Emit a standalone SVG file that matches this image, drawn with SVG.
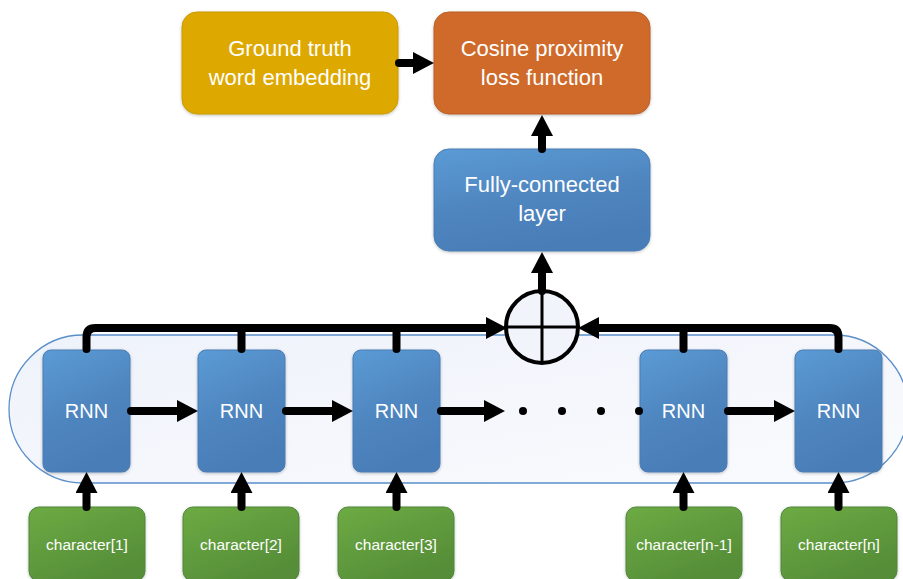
<svg xmlns="http://www.w3.org/2000/svg" width="903" height="579" viewBox="0 0 903 579">
  <defs>
    <linearGradient id="gBlue" x1="0" y1="0" x2="0.35" y2="1">
      <stop offset="0" stop-color="#5b9bd5"/>
      <stop offset="0.55" stop-color="#4f86c0"/>
      <stop offset="1" stop-color="#4a7db8"/>
    </linearGradient>
    <linearGradient id="gGreen" x1="0" y1="0" x2="0.6" y2="1">
      <stop offset="0" stop-color="#6dab44"/>
      <stop offset="1" stop-color="#558d37"/>
    </linearGradient>
    <linearGradient id="gPill" x1="0" y1="0" x2="1" y2="1">
      <stop offset="0" stop-color="#eef2fa"/>
      <stop offset="1" stop-color="#fafbfe"/>
    </linearGradient>
    <filter id="soft" x="-10%" y="-10%" width="120%" height="130%">
      <feDropShadow dx="0" dy="1" stdDeviation="1.5" flood-color="#000" flood-opacity="0.25"/>
    </filter>
    <marker id="head" viewBox="0 0 22 22" markerUnits="userSpaceOnUse" markerWidth="22" markerHeight="22" refX="0" refY="11" orient="auto">
      <path d="M0,0 L21,11 L0,22 z" fill="#000"/>
    </marker>
  </defs>
  <style>
    .lbl { font-family: "Liberation Sans", Arial, sans-serif; fill: #ffffff; text-anchor: middle; }
    .big { font-size: 22px; }
    .rnn-t { font-size: 20px; }
    .chr { font-size: 15.5px; }
    .blue { fill: url(#gBlue); stroke: #4a7cb4; stroke-width: 1; filter: url(#soft); }
    .green { fill: url(#gGreen); stroke: #50853a; stroke-width: 1; filter: url(#soft); }
    .wire { fill: none; stroke: #000; stroke-width: 8; stroke-linecap: round; stroke-linejoin: round; }
    .arrow { marker-end: url(#head); }
  </style>

  <rect width="903" height="579" fill="#ffffff"/>

  <!-- recurrent block container -->
  <g id="rnn-container">
    <rect x="9" y="335" width="899" height="148" rx="74" ry="74" fill="url(#gPill)" stroke="#5b8fc9" stroke-width="1.3"/>
  </g>

  <!-- top row -->
  <g id="ground-truth">
    <rect x="182" y="12" width="216" height="102" rx="15" fill="#dda800" stroke="#c99a00" stroke-width="1" filter="url(#soft)"/>
    <text class="lbl big" x="290" y="56">Ground truth</text>
    <text class="lbl big" x="290" y="85">word embedding</text>
  </g>
  <g id="cosine-loss">
    <rect x="434" y="12" width="216" height="102" rx="15" fill="#d06b2c" stroke="#b95e26" stroke-width="1" filter="url(#soft)"/>
    <text class="lbl big" x="542" y="56">Cosine proximity</text>
    <text class="lbl big" x="542" y="85">loss function</text>
  </g>
  <g id="fully-connected">
    <rect class="blue" x="434" y="149" width="216" height="102" rx="15"/>
    <text class="lbl big" x="542" y="192">Fully-connected</text>
    <text class="lbl big" x="542" y="221">layer</text>
  </g>

  <!-- summation node -->
  <g id="sum">
    <circle cx="542" cy="327" r="36" fill="#f1f4fa" stroke="#000" stroke-width="4"/>
    <line x1="506" y1="327" x2="578" y2="327" stroke="#000" stroke-width="3"/>
    <line x1="542" y1="291" x2="542" y2="363" stroke="#000" stroke-width="3"/>
  </g>

  <!-- RNN cells -->
  <g id="rnn-1">
    <rect class="blue" x="43" y="350" width="87" height="122" rx="8"/>
    <text class="lbl rnn-t" x="86.5" y="418">RNN</text>
  </g>
  <g id="rnn-2">
    <rect class="blue" x="198" y="350" width="87" height="122" rx="8"/>
    <text class="lbl rnn-t" x="241.5" y="418">RNN</text>
  </g>
  <g id="rnn-3">
    <rect class="blue" x="353" y="350" width="87" height="122" rx="8"/>
    <text class="lbl rnn-t" x="396.5" y="418">RNN</text>
  </g>
  <g id="rnn-n-1">
    <rect class="blue" x="640" y="350" width="87" height="122" rx="8"/>
    <text class="lbl rnn-t" x="683.5" y="418">RNN</text>
  </g>
  <g id="rnn-n">
    <rect class="blue" x="795" y="350" width="87" height="122" rx="8"/>
    <text class="lbl rnn-t" x="838.5" y="418">RNN</text>
  </g>

  <!-- character inputs -->
  <g id="char-1">
    <rect class="green" x="29" y="507" width="116" height="74" rx="10"/>
    <text class="lbl chr" x="87" y="550">character[1]</text>
  </g>
  <g id="char-2">
    <rect class="green" x="183" y="507" width="116" height="74" rx="10"/>
    <text class="lbl chr" x="241" y="550">character[2]</text>
  </g>
  <g id="char-3">
    <rect class="green" x="338" y="507" width="116" height="74" rx="10"/>
    <text class="lbl chr" x="396" y="550">character[3]</text>
  </g>
  <g id="char-n-1">
    <rect class="green" x="626" y="507" width="116" height="74" rx="10"/>
    <text class="lbl chr" x="684" y="550">character[n-1]</text>
  </g>
  <g id="char-n">
    <rect class="green" x="781" y="507" width="116" height="74" rx="10"/>
    <text class="lbl chr" x="839" y="550">character[n]</text>
  </g>

  <!-- connectors -->
  <g id="connectors">
    <!-- top row -->
    <line class="wire arrow" x1="399" y1="63" x2="413" y2="63"/>
    <line class="wire arrow" x1="542" y1="149" x2="542" y2="136"/>
    <line class="wire arrow" x1="542" y1="291" x2="542" y2="273" stroke-width="7"/>

    <!-- hidden-state chain -->
    <line class="wire arrow" x1="131" y1="411" x2="177" y2="411"/>
    <line class="wire arrow" x1="286" y1="411" x2="332" y2="411"/>
    <line class="wire arrow" x1="441" y1="411" x2="484" y2="411"/>
    <line class="wire arrow" x1="728" y1="411" x2="774" y2="411"/>
    <g id="ellipsis" fill="#000">
      <circle cx="523" cy="411" r="4"/>
      <circle cx="562" cy="411" r="4"/>
      <circle cx="601" cy="411" r="4"/>
      <circle cx="639" cy="411" r="4"/>
    </g>

    <!-- output bus into the sum -->
    <path class="wire arrow" d="M86.5,349 V337 Q86.5,328 95.5,328 H486"/>
    <path class="wire" d="M241.5,349 V328"/>
    <path class="wire" d="M396.5,349 V328"/>
    <path class="wire arrow" d="M838.5,349 V337 Q838.5,328 829.5,328 H599"/>
    <path class="wire" d="M683.5,349 V328"/>

    <!-- character inputs into cells -->
    <line class="wire arrow" x1="86.5" y1="507" x2="86.5" y2="493" stroke-linecap="butt"/>
    <line class="wire arrow" x1="241.5" y1="507" x2="241.5" y2="493" stroke-linecap="butt"/>
    <line class="wire arrow" x1="396.5" y1="507" x2="396.5" y2="493" stroke-linecap="butt"/>
    <line class="wire arrow" x1="683.5" y1="507" x2="683.5" y2="493" stroke-linecap="butt"/>
    <line class="wire arrow" x1="838.5" y1="507" x2="838.5" y2="493" stroke-linecap="butt"/>
  </g>
</svg>
